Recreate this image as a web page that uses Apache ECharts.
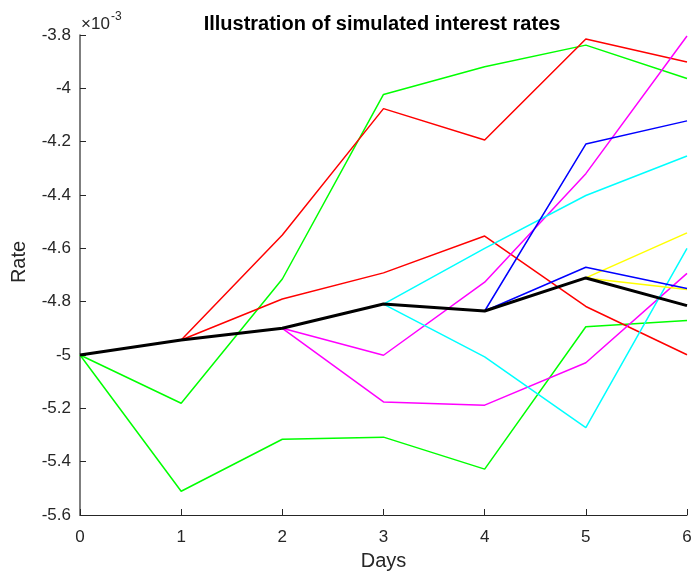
<!DOCTYPE html>
<html>
<head>
<meta charset="utf-8">
<script src="https://cdn.jsdelivr.net/npm/echarts@6/dist/echarts.min.js"></script>
<style>
html,body{margin:0;padding:0;background:#fff;}
#c{width:691px;height:571px;}
</style>
</head>
<body>
<div id="c"></div>
<script>
// Values in units of 1e-3
const days = [0, 1, 2, 3, 4, 5, 6];
const yTicks = [-5.6, -5.4, -5.2, -5, -4.8, -4.6, -4.4, -4.2, -4, -3.8];
const greenA   = [-5.000, -5.181, -4.715, -4.023, -3.919, -3.838, -3.963];
const greenB   = [-5.000, -5.511, -5.316, -5.308, -5.428, -4.894, -4.871];
const redA     = [null, -4.944, -4.550, -4.076, -4.194, -3.815, -3.901];
const redB     = [null, -4.944, -4.790, -4.692, -4.554, -4.818, -4.999];
const magentaA = [null, null, -4.900, -5.001, -4.727, -4.320, -3.804];
const magentaB = [null, null, -4.900, -5.176, -5.188, -5.029, -4.694];
const cyanA    = [null, null, null, -4.809, -4.600, -4.402, -4.254];
const cyanB    = [null, null, null, -4.809, -5.007, -5.272, -4.600];
const blueA    = [null, null, null, null, -4.835, -4.209, -4.122];
const blueB    = [null, null, null, null, -4.835, -4.671, -4.751];
const yellowA  = [null, null, null, null, null, -4.711, -4.542];
const yellowB  = [null, null, null, null, null, -4.711, -4.754];
const mainPath = [-5.000, -4.944, -4.900, -4.809, -4.835, -4.711, -4.815];

const FONT = "'Liberation Sans', Arial, Helvetica, sans-serif";
const AX = '#262626';

function mk(vals, color, width) {
  return {
    type: 'line',
    data: days.map((d, i) => vals[i] === null ? null : [d, vals[i]]).filter(p => p !== null),
    showSymbol: false,
    symbol: 'none',
    lineStyle: { color: color, width: width },
    itemStyle: { color: color },
    animation: false,
    silent: true,
    z: width > 2 ? 5 : 2
  };
}

const chart = echarts.init(document.getElementById('c'), null, { renderer: 'canvas' });
chart.setOption({
  backgroundColor: '#fff',
  animation: false,
  title: {
    text: 'Illustration of simulated interest rates',
    left: 377, top: 9, textAlign: 'center',
    textStyle: { fontFamily: FONT, fontSize: 20, fontWeight: 'bold', color: '#000' }
  },
  grid: { left: 80, right: 4, top: 35, bottom: 56, containLabel: false, outerBoundsMode: 'none' },
  xAxis: {
    type: 'value', min: 0, max: 6, interval: 1,
    name: 'Days', nameLocation: 'middle', nameGap: 36,
    nameTextStyle: { fontFamily: FONT, fontSize: 20, color: AX },
    axisLine: { show: true, lineStyle: { color: AX, width: 1 } },
    axisTick: { show: true, inside: true, length: 6, lineStyle: { color: AX } },
    axisLabel: { fontFamily: FONT, fontSize: 17, color: AX, margin: 14 },
    splitLine: { show: false }
  },
  yAxis: {
    type: 'value', min: -5.6, max: -3.8, interval: 0.2,
    name: 'Rate', nameLocation: 'middle', nameGap: 51,
    nameTextStyle: { fontFamily: FONT, fontSize: 20, color: AX, padding: [0, 0, 0, 26] },
    axisLine: { show: true, lineStyle: { color: '#555555', width: 1.5 } },
    axisTick: { show: true, inside: true, length: 6, lineStyle: { color: AX } },
    axisLabel: {
      fontFamily: FONT, fontSize: 17, color: AX, margin: 9,
      formatter: v => String(parseFloat(v.toFixed(1)))
    },
    splitLine: { show: false }
  },
  graphic: [
    {
      type: 'text', left: 81, top: 16,
      style: { text: '×10', fontFamily: FONT, fontSize: 17, fill: AX }
    },
    {
      type: 'text', left: 111, top: 11,
      style: { text: '-3', fontFamily: FONT, fontSize: 12, fill: AX }
    }
  ],
  series: [
    mk(greenA, '#00ff00', 1.5),
    mk(greenB, '#00ff00', 1.5),
    mk(redA, '#ff0000', 1.5),
    mk(redB, '#ff0000', 1.5),
    mk(magentaA, '#ff00ff', 1.5),
    mk(magentaB, '#ff00ff', 1.5),
    mk(cyanA, '#00ffff', 1.5),
    mk(cyanB, '#00ffff', 1.5),
    mk(yellowA, '#ffff00', 1.5),
    mk(yellowB, '#ffff00', 1.5),
    mk(blueA, '#0000ff', 1.5),
    mk(blueB, '#0000ff', 1.5),
    mk(mainPath, '#000000', 3)
  ]
});
</script>
</body>
</html>
